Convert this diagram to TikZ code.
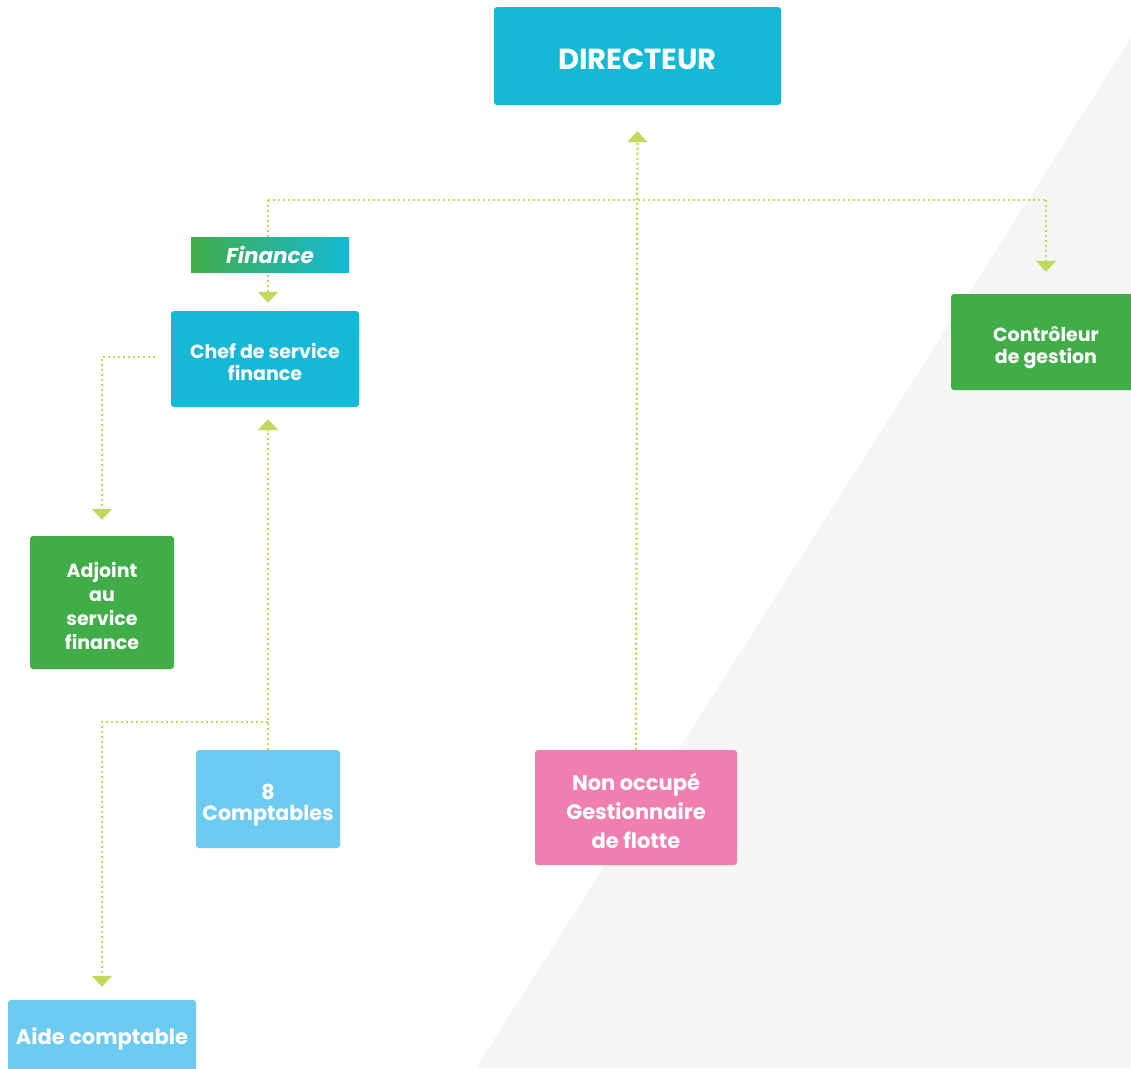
\documentclass[tikz,border=0pt]{standalone}
\usepackage{fontspec}
\setmainfont{Poppins}
\usetikzlibrary{arrows.meta,calc}
\pgfdeclarelayer{backdrop}
\pgfdeclarelayer{links}
\pgfsetlayers{backdrop,links,main}
\definecolor{cyanbox}{HTML}{15B9D6}
\definecolor{greenbox}{HTML}{41AD49}
\definecolor{lightbox}{HTML}{6DCBF2}
\definecolor{pinkbox}{HTML}{F07EB1}
\definecolor{linkcol}{HTML}{BFD95B}
\definecolor{backgray}{HTML}{F5F5F5}
% lower one line of box text without changing its measured size
\newcommand\dn[2][3pt]{\raisebox{-#1}[\height][\depth]{#2}}
\tikzset{
  box/.style={rounded corners=3pt, text=white, align=center, inner sep=0pt,
    font=\bfseries\fontsize{19}{22}\selectfont},
  plain/.style={draw=linkcol, line width=2.2pt, dash pattern=on 2.2pt off 2.8pt},
  flow/.style={plain, -{Triangle[width=20pt,length=11pt]}},
}
\begin{document}
\begin{tikzpicture}[x=1pt,y=-1pt]
\useasboundingbox (0,0) rectangle (1131,1068);
\clip (0,0) rectangle (1131,1068);
% light diagonal backdrop
\begin{pgfonlayer}{backdrop}
\fill[backgray] (1131,38) -- (476,1068) -- (1131,1068) -- cycle;
\end{pgfonlayer}

% boxes
\node[box, fill=cyanbox, minimum width=287pt, minimum height=98pt,
  font=\bfseries\fontsize{29}{34}\selectfont] (dir) at (637.5,56) {\dn{DIRECTEUR}};
\node[inner sep=0pt, minimum width=158pt, minimum height=35pt,
  left color=greenbox, right color=cyanbox, text=white,
  font=\bfseries\itshape\fontsize{21.5}{24}\selectfont] (fin) at (270,254.5) {Finance};
\node[box, fill=cyanbox, minimum width=188pt, minimum height=96pt] (chef) at (265,359)
  {\dn{Chef de service}\\\dn{finance}};
\node[box, fill=greenbox, minimum width=190pt, minimum height=96pt] (ctrl) at (1046,342)
  {\dn[6pt]{Contrôleur}\\\dn[6pt]{de gestion}};
\node[box, fill=greenbox, minimum width=144pt, minimum height=133pt,
  font=\bfseries\fontsize{19}{24}\selectfont] (adj) at (102,602.5)
  {\dn{Adjoint}\\\dn{au}\\\dn{service}\\\dn{finance}};
\node[box, fill=lightbox, minimum width=144pt, minimum height=98pt,
  font=\bfseries\fontsize{20.6}{21}\selectfont] (comp) at (268,799)
  {\dn[6pt]{8}\\\dn[6pt]{Comptables}};
\node[box, fill=pinkbox, minimum width=202pt, minimum height=115pt,
  font=\bfseries\fontsize{21}{29}\selectfont] (non) at (636,807.5)
  {\dn{Non occupé}\\\dn{Gestionnaire}\\\dn{de flotte}};
\node[box, fill=lightbox, minimum width=188pt, minimum height=74pt,
  font=\bfseries\fontsize{21}{24}\selectfont] (aide) at (102,1037)
  {\dn[2pt]{Aide comptable}};

% junction points
\coordinate (hl) at (268,200);
\coordinate (cl) at ([xshift=-16pt,yshift=2pt]chef.west);
\coordinate (jc) at (comp.north |- 0,722);

% connectors
\begin{pgfonlayer}{links}
\draw[plain] (hl) -- (hl -| ctrl.north);
\draw[flow, shorten >=8pt] (hl) -- (hl |- chef.north);
\draw[flow, shorten >=22pt] (hl -| ctrl.north) -- (ctrl.north);
\draw[flow, shorten >=26pt] (non.north) -- (dir.south);
\draw[flow, shorten >=16pt] (cl) -- (cl -| adj.north) -- (adj.north);
\draw[flow, shorten >=12pt] (comp.north) -- (comp.north |- chef.south);
\draw[flow, shorten >=13pt] (jc) -- (jc -| aide.north) -- (aide.north);
\end{pgfonlayer}
\end{tikzpicture}
\end{document}
